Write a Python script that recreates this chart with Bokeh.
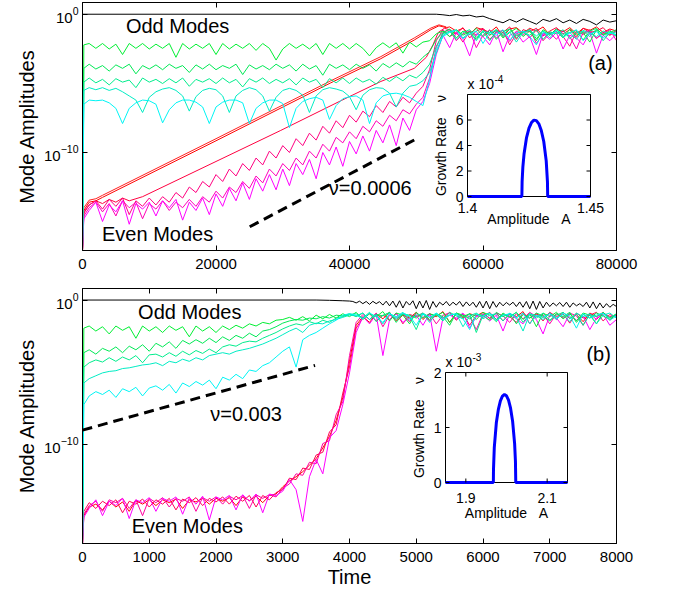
import math
from bokeh.plotting import figure
from bokeh.models import Range1d, LinearAxis, LogAxis, FixedTicker, LinearScale, CustomJSTickFormatter
from bokeh.layouts import column
from bokeh.embed import file_html
from bokeh.resources import INLINE
from bokeh.core.properties import value

FONT = "Liberation Sans"
NB = "\u00a0"

# ====================== DATA : panel (a) ======================
# values are log10(mode amplitude)
a_time = [0, 200] + list(range(1000, 80001, 1000))
a_x_ticks = [0, 20000, 40000, 60000, 80000]
y_ticks = [1e-20, 1e-10, 1e0]
a_log_range = (-17.1, 0.87)

a_black_time = [0] + list(range(53000, 80001, 1000))
a_black_log = [0.02, 0.02, -0.02, -0.08, 0.0, -0.1, -0.05, -0.18, -0.12, -0.3, -0.45, -0.6, -0.35,
               -0.55, -0.3, -0.5, -0.7, -0.35, -0.5, -0.3, -0.6, -0.4, -0.65, -0.35, -0.5, -0.75,
               -0.4, -0.55, -0.45]

a_g1_log = [-17.1, -2.2,
            -2.1, -2.45, -2.1, -2.5, -2.15, -2.9, -2.1, -2.45, -2.1, -2.5,
            -2.15, -2.45, -2.1, -3.1, -2.1, -2.5, -2.15, -2.45, -2.1, -2.9,
            -2.1, -2.5, -2.15, -2.45, -2.1, -2.6, -2.1, -2.45, -3.3, -2.5,
            -2.1, -2.45, -2.15, -2.5, -2.1, -2.9, -2.1, -2.45, -2.1, -2.5,
            -2.1, -2.45, -3.0, -2.4, -2.05, -2.4, -2.05, -2.8, -2.0, -2.35,
            -2.0, -1.9, -1.4,
            -1.2, -1.6, -1.1, -1.5, -1.25, -1.8, -1.15,
            -1.5, -1.1, -1.7, -1.3, -1.0, -1.6, -1.2, -1.9, -1.1, -1.4,
            -1.2, -1.7, -1.05, -1.5, -1.3, -2.0, -1.1, -1.45, -1.2, -1.6]
a_g2_log = [-17.1, -3.9,
            -3.6, -3.95, -3.7, -4.1, -3.65, -3.9, -3.6, -4.3, -3.7, -3.95,
            -3.65, -4.0, -3.6, -3.9, -3.7, -4.2, -3.65, -3.95, -3.6, -4.0,
            -3.7, -3.9, -3.6, -4.35, -3.65, -3.95, -3.7, -4.0, -3.6, -3.9,
            -3.65, -4.1, -3.6, -3.95, -3.7, -4.4, -3.6, -3.9, -3.65, -4.0,
            -3.6, -3.9, -3.65, -4.1, -3.55, -3.85, -3.5, -3.8, -3.4, -3.6,
            -3.1, -2.7, -1.8,
            -1.3, -1.05, -1.7, -1.2, -1.45, -1.0, -1.6,
            -1.15, -1.8, -1.25, -1.05, -1.55, -1.3, -1.1, -1.75, -1.2, -1.5,
            -1.05, -1.6, -1.3, -1.15, -1.85, -1.2, -1.0, -1.5, -1.3, -1.1]
a_g3_log = [-17.1, -4.9,
            -4.6, -4.95, -4.7, -5.1, -4.65, -4.9, -4.75, -5.3, -4.6, -4.9,
            -4.7, -5.0, -4.65, -4.95, -4.6, -5.2, -4.7, -4.9, -4.65, -5.0,
            -4.6, -4.95, -4.7, -5.25, -4.65, -4.9, -4.6, -5.0, -4.7, -4.95,
            -4.65, -5.1, -4.6, -4.9, -4.7, -5.3, -4.65, -4.95, -4.6, -5.0,
            -4.6, -4.9, -4.7, -5.05, -4.55, -4.85, -4.5, -4.8, -4.4, -4.6,
            -4.2, -3.6, -2.3,
            -1.4, -1.2, -1.8, -1.3, -1.1, -1.65, -1.25,
            -1.9, -1.2, -1.45, -1.05, -1.7, -1.3, -1.5, -1.1, -1.8, -1.25,
            -1.4, -1.1, -1.75, -1.3, -1.2, -1.6, -1.05, -1.9, -1.3, -1.45]
a_g4_log = [-17.1, -5.5,
            -5.3, -5.45, -5.3, -5.5, -5.35, -5.6, -5.9, -6.2, -7.1, -6.0,
            -5.6, -5.4, -5.3, -5.5, -5.9, -7.0, -5.95, -5.5, -5.35, -5.45,
            -5.9, -7.1, -5.9, -5.5, -5.3, -5.45, -5.9, -7.0, -6.0, -5.5,
            -5.35, -5.5, -5.85, -7.1, -5.9, -5.45, -5.3, -5.4, -5.55, -5.95,
            -6.9, -5.85, -5.45, -5.3, -5.35, -5.7, -6.7, -5.7, -5.2, -5.1,
            -4.8, -4.2, -2.8,
            -1.5, -1.25, -1.1, -1.7, -1.3, -1.9, -1.2,
            -1.35, -1.1, -1.6, -1.25, -2.0, -1.3, -1.15, -1.55, -1.2, -1.7,
            -1.1, -1.45, -1.3, -1.8, -1.15, -1.35, -1.6, -1.2, -1.4, -1.25]
a_g5_log = [-17.1, -6.5,
            -6.2, -6.25, -6.2, -6.4, -6.8, -7.9, -6.8, -6.4, -6.2, -6.25,
            -6.5, -7.85, -6.9, -6.4, -6.2, -6.2, -6.35, -6.7, -7.9, -6.7,
            -6.35, -6.2, -6.2, -6.4, -7.9, -6.8, -6.4, -6.2, -6.2, -6.45,
            -8.2, -6.8, -6.3, -6.1, -6.0, -6.2, -7.6, -6.6, -6.1, -5.95,
            -5.9, -6.2, -7.9, -6.4, -5.9, -5.75, -5.7, -5.8, -6.0, -6.3,
            -6.6, -4.7, -2.6,
            -1.6, -1.3, -1.15, -1.75, -1.4, -1.2, -2.1,
            -1.3, -1.5, -1.1, -1.85, -1.35, -1.2, -1.6, -2.2, -1.3, -1.45,
            -1.2, -1.65, -1.35, -1.1, -1.9, -1.4, -1.25, -1.7, -1.3, -1.5]

a_band_time = list(range(55000, 80001, 1000))
a_r1_time = [0, 200, 1000, 2000, 3000, 20000, 37200, 44700, 49700, 52200, 53400, 54500]
a_r1_log = [-17.1, -14.2, -13.6, -13.5, -13.25, -9.15, -4.95, -3.2, -1.85, -1.1, -0.82, -0.95]
a_r1_band_log = [-0.9, -1.2, -1.0, -1.45, -0.95, -1.1, -1.3, -0.9, -1.6, -1.05, -0.95, -1.35, -1.0,
                 -1.2, -0.9, -1.5, -1.05, -1.25, -0.95, -1.4, -1.0, -1.15, -0.9, -1.3, -1.05, -1.2]
a_r1b_log = [-17.1, -14.0, -13.45, -13.35, -13.1, -9.0, -4.8, -3.05, -1.7, -0.98, -0.75, -0.9]
a_r2_time = [0, 200, 1000, 2000, 3000, 4000, 5000, 6000, 7000, 8000, 9000,
             29700, 38700, 44700, 49700, 51500, 52500, 53300, 54200]
a_r2_log = [-17.1, -14.4, -13.8, -13.5, -13.7, -13.4, -13.6, -13.3, -13.5, -13.35, -13.2,
            -8.4, -6.25, -4.85, -3.9, -3.1, -2.2, -1.3, -1.0]
a_r2_band_log = [-1.1, -1.4, -0.95, -1.7, -1.2, -1.0, -1.5, -1.15, -1.3, -0.9, -1.8, -1.1, -1.25,
                 -1.0, -1.55, -1.2, -0.95, -1.4, -1.1, -1.65, -1.0, -1.3, -1.2, -0.95, -1.5, -1.1]
a_m1_log = [-17.1, -14.3,
            -13.8, -13.5, -14.1, -13.4, -13.9, -13.3, -14.5, -13.5, -13.9, -13.3,
            -13.8, -13.2, -13.6, -12.9, -13.3, -12.5, -12.9, -12.1, -12.5, -11.6,
            -12.1, -11.2, -11.7, -10.8, -11.3, -10.4, -10.9, -9.9, -10.4, -9.5,
            -10.0, -9.0, -9.5, -8.6, -9.1, -8.1, -8.6, -7.7, -8.2, -7.3,
            -7.8, -7.0, -7.4, -6.6, -7.1, -6.3, -6.7, -6.0, -6.4, -5.7,
            -5.2, -4.0, -1.9,
            -1.1, -1.6, -1.3, -2.0, -1.2, -1.5, -1.05, -1.8, -1.3, -1.15, -2.2, -1.4, -1.2, -1.7,
            -1.1, -1.9, -1.35, -1.25, -1.6, -2.3, -1.2, -1.45, -1.1, -1.75, -1.3, -1.5, -1.2]
a_m2_log = [-17.1, -14.6,
            -14.0, -13.6, -14.3, -13.7, -14.6, -13.5, -14.0, -13.6, -14.8, -13.7,
            -14.1, -13.5, -14.2, -13.6, -14.0, -13.4, -13.9, -13.2, -13.6, -12.8,
            -13.3, -12.5, -12.9, -12.1, -12.6, -11.7, -12.2, -11.2, -11.7, -10.8,
            -11.3, -10.4, -10.9, -9.9, -10.4, -9.4, -9.9, -8.9, -9.3, -8.5,
            -9.0, -8.1, -8.5, -7.7, -8.1, -7.3, -7.7, -6.9, -7.2, -6.5,
            -6.0, -4.6, -2.4,
            -1.3, -1.1, -1.9, -1.4, -1.2, -2.4, -1.5, -1.1, -1.7, -1.3, -1.95, -1.2, -1.5, -1.05,
            -2.1, -1.4, -1.3, -1.8, -1.15, -1.6, -2.5, -1.3, -1.2, -1.7, -1.4, -1.1, -1.9]
a_m3_log = [-17.1, -14.8,
            -14.2, -13.6, -15.0, -13.8, -14.3, -13.5, -15.2, -13.7, -14.1, -13.6,
            -14.6, -13.5, -14.0, -13.4, -14.9, -13.6, -14.2, -13.3, -14.5, -13.0,
            -13.9, -12.6, -13.5, -12.2, -13.4, -11.9, -12.8, -11.6, -12.7, -11.2,
            -12.4, -10.8, -11.6, -10.5, -11.9, -10.0, -10.9, -9.6, -11.0, -9.2,
            -10.1, -8.8, -9.9, -8.4, -9.3, -8.0, -9.5, -7.5, -8.4, -6.9,
            -6.3, -5.0, -2.9,
            -1.5, -2.4, -1.3, -1.8, -3.0, -1.4, -1.6, -2.2, -1.2, -2.7, -1.5, -1.3, -2.0, -1.6,
            -2.9, -1.4, -1.8, -1.3, -2.5, -1.5, -1.7, -2.2, -1.3, -2.8, -1.5, -1.9, -1.4]

a_dash_time = [25050, 49950]
a_dash_log = [-15.38, -9.03]

a_note_text = ["Odd Modes", "Even Modes"]
a_note_time = [14250, 11250]
a_note_log = [-0.80, -15.87]
a_rate_text = ["\u03bd=0.0006", "(a)"]
a_rate_time = [36900, 75750]
a_rate_log = [-12.6, -3.48]

# inset (a): growth rate (units of 1e-4) vs amplitude
a_in_amp = [1.400, 1.4221, 1.4222, 1.4225, 1.423, 1.424, 1.425, 1.426, 1.427, 1.428, 1.429,
            1.430, 1.431, 1.432, 1.4325, 1.4326, 1.450]
a_in_nu = [0, 0, 1.17, 2.30, 3.36, 4.62, 5.37, 5.80, 5.99, 5.95, 5.70, 5.18, 4.31, 2.79, 1.17, 0, 0]
a_in_xlim = (1.40, 1.45)
a_in_ylim = (0, 8)
a_in_xticks = [1.40, 1.45]
a_in_xlabels = ["1.4", "1.45"]
a_in_yticks = [0, 2, 4, 6]
a_in_ylabels = ["0", "2", "4", "6"]
a_in_exp = "-4"

# ====================== DATA : panel (b) ======================
b_time = [0, 20] + list(range(100, 8001, 100))
b_x_ticks = [0, 1000, 2000, 3000, 4000, 5000, 6000, 7000, 8000]
b_log_range = (-16.83, 0.85)

b_black_time = [0, 3500, 3700, 3900, 4000] + list(range(4050, 8001, 50))
b_black_log = [0.05, 0.05, 0.03, 0.0, -0.02,
               -0.05, -0.15, -0.03, -0.2, -0.05, -0.25, -0.04, -0.2, -0.06, -0.3,
               -0.03, -0.35, -0.02, -0.45, 0.0, -0.5, -0.05, -0.3, 0.0, -0.55,
               -0.02, -0.5, 0.02, -0.6, -0.05, -0.45, -0.1, -0.3, -0.05, -0.35,
               -0.1, -0.3, -0.05, -0.4, -0.08, -0.35, -0.1, -0.45, -0.05, -0.5,
               -0.02, -0.55, -0.05, -0.45, -0.1, -0.35, -0.12, -0.3, -0.1, -0.4,
               -0.08, -0.45, -0.05, -0.55, -0.02, -0.6, -0.05, -0.5, -0.1, -0.4,
               -0.15, -0.35, -0.12, -0.4, -0.1, -0.45, -0.15, -0.35, -0.2, -0.4,
               -0.1, -0.5, -0.08, -0.55, -0.15, -0.5, -0.2, -0.45, -0.25, -0.4]

b_g1_log = [-16.9, -1.9,
            -1.75, -2.1, -1.8, -2.3, -1.75, -2.05, -1.8, -2.6, -1.75, -2.1,
            -1.8, -2.2, -1.75, -2.05, -1.8, -2.5, -1.75, -2.1, -1.8, -2.2,
            -1.75, -2.0, -1.7, -1.9, -1.6, -1.75, -1.5, -1.6, -1.35, -1.3,
            -1.15, -1.35, -1.1, -1.4, -1.0, -1.25, -0.95, -1.2, -0.9, -1.1,
            -0.8, -1.3, -0.9, -1.1, -0.75, -1.4, -0.85, -1.0, -1.6, -0.8,
            -1.2, -0.9, -1.05, -0.8, -1.5, -0.85, -1.1, -0.9, -1.3, -0.8,
            -1.0, -1.45, -0.85, -1.15, -0.8, -1.3, -0.9, -1.8, -0.85, -1.1,
            -0.8, -1.25, -0.9, -1.4, -0.85, -1.0, -1.6, -0.8, -1.2, -0.9]
b_g2_log = [-16.9, -3.6,
            -3.4, -3.7, -3.3, -3.5, -3.2, -3.6, -3.15, -3.4, -3.05, -3.5,
            -2.95, -3.2, -2.85, -3.3, -2.75, -3.0, -2.7, -2.95, -2.6, -2.9,
            -2.5, -2.75, -2.4, -2.6, -2.25, -2.5, -2.1, -2.0, -1.8, -1.55,
            -1.4, -1.3, -1.35, -1.2, -1.25, -1.1, -1.2, -1.0, -1.05, -0.9,
            -1.1, -0.85, -1.3, -0.95, -1.05, -0.8, -1.5, -0.9, -1.0, -1.2,
            -0.85, -1.3, -0.9, -1.1, -1.7, -0.85, -1.0, -1.25, -0.9, -1.05,
            -1.35, -0.8, -1.1, -0.9, -1.6, -0.95, -1.2, -0.85, -1.05, -1.4,
            -0.9, -1.1, -0.8, -1.5, -0.95, -1.2, -0.85, -1.05, -1.3, -0.9]
b_g3_log = [-16.9, -4.6,
            -4.3, -4.1, -4.25, -3.95, -4.2, -3.9, -4.1, -3.8, -4.3, -3.75,
            -3.7, -3.9, -3.6, -3.85, -3.5, -3.75, -3.45, -3.65, -3.35, -3.6,
            -3.2, -3.05, -3.15, -2.9, -2.8, -2.85, -2.6, -2.4, -2.2, -1.95,
            -1.75, -1.6, -1.7, -1.45, -1.6, -1.35, -1.5, -1.2, -1.1, -0.95,
            -0.9, -1.2, -0.8, -1.45, -1.0, -0.85, -1.3, -0.9, -1.1, -2.0,
            -0.85, -1.15, -0.95, -1.4, -0.8, -1.05, -1.25, -0.9, -2.2, -1.0,
            -0.85, -1.3, -0.95, -1.1, -0.8, -1.5, -0.9, -1.2, -0.85, -1.35,
            -1.0, -0.8, -1.25, -0.9, -1.7, -0.95, -1.1, -0.85, -1.2, -0.9]
b_g4_log = [-16.9, -5.7,
            -5.4, -5.2, -5.0, -4.9, -4.85, -4.7, -4.65, -4.55, -4.45, -4.4,
            -4.3, -4.5, -4.2, -4.3, -4.05, -4.2, -3.95, -4.1, -3.8, -3.7,
            -3.6, -3.7, -3.5, -3.4, -3.3, -3.15, -3.0, -2.8, -2.6, -2.35,
            -2.1, -1.9, -2.2, -1.7, -1.55, -1.6, -1.4, -1.3, -1.15, -1.0,
            -1.05, -0.85, -1.3, -0.95, -1.6, -0.9, -1.1, -0.8, -1.35, -1.0,
            -0.9, -1.5, -0.85, -1.2, -1.0, -0.9, -1.8, -1.05, -0.85, -1.25,
            -1.0, -0.9, -1.4, -0.85, -1.15, -2.1, -0.9, -1.05, -1.3, -0.85,
            -1.2, -0.95, -1.45, -0.85, -1.1, -0.9, -1.6, -1.0, -0.85, -1.2]
b_g5_log = [-16.9, -7.2,
            -6.6, -6.3, -6.5, -6.2, -6.7, -6.1, -6.3, -6.0, -6.6, -6.05,
            -5.9, -6.2, -5.8, -6.4, -5.7, -5.95, -5.6, -5.85, -5.5, -6.1,
            -5.3, -5.5, -5.1, -5.4, -4.8, -4.9, -4.5, -4.3, -3.9, -3.5,
            -3.2, -4.6, -2.7, -2.4, -2.2, -1.9, -1.6, -1.35, -1.0, -0.9,
            -1.0, -1.25, -0.85, -1.1, -1.5, -0.9, -1.2, -0.85, -1.05, -1.7,
            -0.9, -1.15, -0.85, -1.35, -1.0, -0.9, -1.25, -2.0, -0.95, -1.1,
            -0.85, -1.4, -1.0, -0.9, -1.2, -0.85, -1.6, -1.0, -1.15, -0.9,
            -1.3, -0.85, -1.05, -1.9, -0.9, -1.2, -1.0, -0.85, -1.35, -1.05]
b_e1_log = [-16.9, -14.9,
            -14.3, -14.1, -14.5, -13.9, -14.3, -13.95, -14.6, -13.85, -14.1, -13.8,
            -14.2, -13.8, -14.0, -13.75, -14.4, -13.8, -13.95, -13.7, -14.1, -13.7,
            -13.9, -13.65, -14.2, -13.6, -13.85, -13.55, -14.0, -13.5, -13.4, -12.9,
            -12.5, -12.2, -11.85, -11.4, -10.95, -10.2, -9.4, -8.3, -6.7, -4.2,
            -1.7, -1.1, -1.5, -0.9, -1.25, -0.8, -1.4, -1.0, -1.2, -0.8,
            -1.3, -0.9, -1.1, -0.75, -1.5, -0.85, -1.2, -0.9, -1.05, -0.8,
            -1.25, -0.85, -1.4, -0.9, -1.1, -0.75, -1.6, -0.9, -1.15, -0.85,
            -1.3, -0.8, -1.2, -0.95, -1.45, -0.85, -1.1, -0.8, -1.35, -0.9]
b_e2_log = [-16.9, -14.6,
            -14.0, -14.4, -13.9, -14.2, -13.8, -14.7, -13.9, -14.1, -13.75, -14.3,
            -13.8, -14.1, -13.7, -14.5, -13.75, -14.0, -13.65, -14.2, -13.7, -13.95,
            -13.6, -14.1, -13.55, -13.9, -13.5, -14.3, -13.5, -13.8, -13.3, -13.1,
            -12.3, -12.4, -11.6, -11.7, -10.7, -10.5, -9.1, -8.6, -6.4, -4.6,
            -1.9, -1.2, -0.9, -1.4, -1.0, -1.3, -0.85, -1.6, -0.95, -1.1,
            -0.85, -1.4, -1.0, -1.2, -0.8, -1.35, -0.9, -1.7, -1.0, -1.15,
            -0.8, -1.3, -0.95, -1.1, -1.5, -0.85, -1.2, -0.9, -1.4, -0.8,
            -1.1, -0.9, -1.55, -0.85, -1.2, -1.0, -0.8, -1.4, -0.95, -1.15]
b_e3_log = [-16.9, -14.8,
            -14.2, -13.9, -14.6, -13.8, -14.0, -13.7, -14.4, -13.8, -14.9, -13.7,
            -14.0, -13.65, -14.3, -13.7, -13.9, -13.6, -14.6, -13.65, -13.9, -13.6,
            -14.1, -13.55, -13.8, -13.5, -14.4, -13.45, -13.7, -13.45, -13.6, -13.0,
            -12.7, -12.0, -12.1, -11.2, -11.3, -9.9, -9.7, -7.9, -7.0, -3.8,
            -1.5, -0.95, -1.3, -0.85, -1.8, -1.0, -1.2, -0.9, -1.45, -0.85,
            -1.15, -0.9, -1.6, -1.0, -0.85, -1.3, -0.95, -1.1, -2.0, -0.9,
            -1.2, -0.85, -1.05, -1.5, -0.9, -1.25, -0.8, -1.1, -0.95, -1.6,
            -0.9, -1.2, -0.85, -1.05, -1.7, -0.9, -1.3, -0.85, -1.1, -1.0]
b_e4_log = [-16.9, -15.0,
            -14.4, -13.8, -14.9, -13.9, -14.2, -13.7, -15.1, -13.8, -14.0, -13.65,
            -14.6, -13.7, -13.9, -13.6, -14.8, -13.65, -14.1, -13.55, -15.2, -13.6,
            -13.8, -13.5, -14.5, -13.45, -13.9, -13.4, -14.7, -13.4, -13.5, -13.2,
            -12.4, -13.1, -15.3, -12.2, -11.0, -12.0, -9.5, -9.0, -7.2, -5.0,
            -2.2, -1.1, -1.6, -0.95, -3.8, -1.3, -0.9, -1.5, -1.2, -1.0,
            -1.7, -0.9, -3.5, -1.2, -1.0, -1.2, -0.85, -1.9, -1.1, -0.95,
            -1.4, -1.0, -2.1, -0.9, -1.25, -1.6, -0.95, -1.3, -2.3, -1.0,
            -1.2, -1.8, -0.9, -1.35, -1.05, -2.0, -1.2, -0.95, -1.7, -1.3]

b_dash_time = [0, 3484]
b_dash_log = [-8.97, -4.48]

b_note_text = ["Odd Modes", "Even Modes"]
b_note_time = [1607, 1570]
b_note_log = [-0.79, -15.65]
b_rate_text = ["\u03bd=0.003", "(b)"]
b_rate_time = [1914, 7550]
b_rate_log = [-7.88, -3.72]

# inset (b): growth rate (units of 1e-3) vs amplitude
b_in_amp = [1.850, 1.9677, 1.968, 1.970, 1.975, 1.980, 1.985, 1.990, 1.995, 2.000, 2.005,
            2.010, 2.015, 2.020, 2.022, 2.0228, 2.150]
b_in_nu = [0, 0, 0.236, 0.64, 1.085, 1.33, 1.485, 1.57, 1.60, 1.576, 1.496, 1.351, 1.115,
           0.703, 0.382, 0, 0]
b_in_xlim = (1.85, 2.15)
b_in_ylim = (0, 2)
b_in_xticks = [1.9, 2.1]
b_in_xlabels = ["1.9", "2.1"]
b_in_yticks = [0, 1, 2]
b_in_ylabels = ["0", "1", "2"]
b_in_exp = "-3"

ODD_COLORS = ["#00ee33", "#00e855", "#00ec8c", "#00ecc4", "#00f4f4"]
EVEN_A_COLORS = ["#ff0000", "#ff2020", "#ff0040", "#ff0080", "#ff00b8", "#ff00ff"]
EVEN_B_COLORS = ["#ff0000", "#ff0055", "#ff00a0", "#ff00ff"]

for arr in [a_g1_log, a_g2_log, a_g3_log, a_g4_log, a_g5_log, a_m1_log, a_m2_log, a_m3_log]:
    assert len(arr) == len(a_time), len(arr)
for arr in [b_g1_log, b_g2_log, b_g3_log, b_g4_log, b_g5_log, b_e1_log, b_e2_log, b_e3_log, b_e4_log]:
    assert len(arr) == len(b_time), len(arr)
assert len(a_black_log) == len(a_black_time)
assert len(b_black_log) == len(b_black_time), (len(b_black_log), len(b_black_time))


def amp(logs):
    return [10.0 ** v for v in logs]


# ====================== LAYOUT (page pixels) ======================
FIG_W = 665
FRAME_PX_X = (82, 616)


def make_panel(height, border_top, border_bottom, x_max, x_ticks, log_range, xlabel):
    p = figure(width=FIG_W, height=height, x_range=Range1d(0, x_max),
               y_range=Range1d(10 ** log_range[0], 10 ** log_range[1]), y_axis_type="log",
               output_backend="svg", toolbar_location=None,
               min_border_left=FRAME_PX_X[0], min_border_right=FIG_W - FRAME_PX_X[1],
               min_border_top=border_top, min_border_bottom=border_bottom)
    p.outline_line_color = "black"
    p.outline_line_width = 1
    p.xgrid.grid_line_color = None
    p.ygrid.grid_line_color = None
    p.background_fill_color = "white"
    p.border_fill_color = "white"
    xa = p.below[0]
    xa.ticker = FixedTicker(ticks=x_ticks)
    ya = p.left[0]
    ya.ticker = FixedTicker(ticks=y_ticks)
    for ax in (xa, ya):
        ax.major_tick_in = 5
        ax.major_tick_out = 0
        ax.minor_tick_line_color = None
        ax.axis_line_color = "black"
        ax.major_tick_line_color = "black"
        ax.major_label_text_font = FONT
        ax.major_label_text_font_size = "15px"
        ax.major_label_text_color = "black"
        ax.axis_label_text_font = FONT
        ax.axis_label_text_font_size = "20px"
        ax.axis_label_text_font_style = "normal"
        ax.axis_label_text_color = "black"
    xa.major_label_standoff = 8
    ya.major_label_standoff = 4
    ya.axis_label = "Mode Amplitudes"
    ya.axis_label_standoff = 3
    if xlabel:
        xa.axis_label = xlabel
        xa.axis_label_standoff = 1
    blank = "return ''"
    top = LinearAxis(ticker=FixedTicker(ticks=x_ticks), formatter=CustomJSTickFormatter(code=blank),
                     major_tick_in=5, major_tick_out=0, minor_tick_line_color=None,
                     major_label_standoff=0, major_label_text_font_size="1px")
    right = LogAxis(ticker=FixedTicker(ticks=y_ticks), formatter=CustomJSTickFormatter(code=blank),
                    major_tick_in=5, major_tick_out=0, minor_tick_line_color=None,
                    major_label_standoff=0, major_label_text_font_size="1px")
    p.add_layout(top, "above")
    p.add_layout(right, "right")
    return p


def add_inset(p, name, amp_x, nu_y, xlim, ylim, xticks, xlabels, yticks, ylabels, exp_text,
              box_x, box_y, frame_y, tick_dy, label_dy, ylab_dx):
    # box_x = (left_px, right_px); box_y = (bottom_px, top_px); frame_y = (bottom_px, top_px)
    sx = (xlim[1] - xlim[0]) / (box_x[1] - box_x[0])
    sy = (ylim[1] - ylim[0]) / (box_y[0] - box_y[1])
    xr = Range1d(xlim[0] + (FRAME_PX_X[0] - box_x[0]) * sx, xlim[0] + (FRAME_PX_X[1] - box_x[0]) * sx)
    yr = Range1d(ylim[0] + (box_y[0] - frame_y[0]) * sy, ylim[0] + (box_y[0] - frame_y[1]) * sy)
    ex = dict(p.extra_x_ranges); ex[name] = xr; p.extra_x_ranges = ex
    ey = dict(p.extra_y_ranges); ey[name] = yr; p.extra_y_ranges = ey
    sxs = dict(p.extra_x_scales); sxs[name] = LinearScale(); p.extra_x_scales = sxs
    sys_ = dict(p.extra_y_scales); sys_[name] = LinearScale(); p.extra_y_scales = sys_
    kw = dict(x_range_name=name, y_range_name=name)
    p.quad(left=[xlim[0]], right=[xlim[1]], bottom=[ylim[0]], top=[ylim[1]],
           fill_color="white", line_color="black", line_width=1, **kw)
    p.line(amp_x, nu_y, line_color="#0000ff", line_width=3, **kw)
    tx = 4 * sx
    ty = 4 * sy
    n = len(yticks)
    p.segment(x0=[xlim[0]] * n, x1=[xlim[0] + tx] * n, y0=yticks, y1=yticks, line_color="black", **kw)
    p.segment(x0=[xlim[1]] * n, x1=[xlim[1] - tx] * n, y0=yticks, y1=yticks, line_color="black", **kw)
    m = len(xticks)
    p.segment(x0=xticks, x1=xticks, y0=[ylim[0]] * m, y1=[ylim[0] + ty] * m, line_color="black", **kw)
    p.segment(x0=xticks, x1=xticks, y0=[ylim[1]] * m, y1=[ylim[1] - ty] * m, line_color="black", **kw)
    tf = dict(text_font=value(FONT), text_font_size=value("14px"), text_color="black")
    p.text(x=[xlim[0]] * n, y=yticks, text=ylabels, x_offset=-4, text_align="right",
           text_baseline="middle", **tf, **kw)
    p.text(x=xticks, y=[ylim[0]] * m, text=xlabels, y_offset=tick_dy, text_align="center",
           text_baseline="middle", **tf, **kw)
    p.text(x=[(xlim[0] + xlim[1]) / 2], y=[ylim[0]], text=["Amplitude" + NB * 3 + "A"], y_offset=label_dy,
           text_align="center", text_baseline="middle", **tf, **kw)
    p.text(x=[xlim[0]], y=[(ylim[0] + ylim[1]) / 2], text=["Growth Rate" + NB * 4 + "\u03bd"],
           angle=math.pi / 2, x_offset=ylab_dx, text_align="center", text_baseline="middle", **tf, **kw)
    p.text(x=[xlim[0]], y=[ylim[1]], text=["x 10"], y_offset=-3, text_align="left",
           text_baseline="bottom", **tf, **kw)
    p.text(x=[xlim[0]], y=[ylim[1]], text=[exp_text], x_offset=27, y_offset=-12, text_align="left",
           text_baseline="bottom", text_font=value(FONT), text_font_size=value("10px"),
           text_color="black", **kw)


def add_notes(p, texts, xs, ys, align):
    p.text(x=xs, y=amp(ys), text=texts, text_font=value(FONT), text_font_size=value("20px"),
           text_color="black", text_align=align, text_baseline="middle")


# ---------------- panel (a) ----------------
pa = make_panel(284, 2, 34, 80000, a_x_ticks, a_log_range, None)
pa.line(a_r1_time + a_band_time, amp(a_r1_log + a_r1_band_log), line_color=EVEN_A_COLORS[0], line_width=1)
pa.line(a_r1_time, amp(a_r1b_log), line_color=EVEN_A_COLORS[1], line_width=1)
pa.line(a_r2_time + a_band_time, amp(a_r2_log + a_r2_band_log), line_color=EVEN_A_COLORS[2], line_width=1)
for logs, col in zip([a_m1_log, a_m2_log, a_m3_log], EVEN_A_COLORS[3:]):
    pa.line(a_time, amp(logs), line_color=col, line_width=1)
for logs, col in zip([a_g1_log, a_g2_log, a_g3_log, a_g4_log, a_g5_log], ODD_COLORS):
    pa.line(a_time, amp(logs), line_color=col, line_width=1)
pa.line(a_black_time, amp(a_black_log), line_color="black", line_width=1)
pa.line(a_dash_time, amp(a_dash_log), line_color="black", line_width=3, line_dash="10 6")
add_notes(pa, a_note_text, a_note_time, a_note_log, "center")
add_notes(pa, a_rate_text, a_rate_time, a_rate_log, "left")
add_inset(pa, "ia", a_in_amp, a_in_nu, a_in_xlim, a_in_ylim, a_in_xticks, a_in_xlabels,
          a_in_yticks, a_in_ylabels, a_in_exp, (467, 590), (196, 94), (250, 2), 11, 22, -27)

# ---------------- panel (b) ----------------
pb = make_panel(307, 4, 48, 8000, b_x_ticks, b_log_range, "Time")
for logs, col in zip([b_e1_log, b_e2_log, b_e3_log, b_e4_log], EVEN_B_COLORS):
    pb.line(b_time, amp(logs), line_color=col, line_width=1)
for logs, col in zip([b_g1_log, b_g2_log, b_g3_log, b_g4_log, b_g5_log], ODD_COLORS):
    pb.line(b_time, amp(logs), line_color=col, line_width=1)
pb.line(b_black_time, amp(b_black_log), line_color="black", line_width=1)
pb.line(b_dash_time, amp(b_dash_log), line_color="black", line_width=3, line_dash="10 6")
add_notes(pb, b_note_text, b_note_time, b_note_log, "center")
add_notes(pb, b_rate_text, b_rate_time, b_rate_log, "left")
add_inset(pb, "ib", b_in_amp, b_in_nu, b_in_xlim, b_in_ylim, b_in_xticks, b_in_xlabels,
          b_in_yticks, b_in_ylabels, b_in_exp, (445, 567), (482, 372), (543, 288), 15, 30, -27)

root = column(pa, pb, spacing=0)
open("out.html", "w").write(file_html(root, INLINE))
